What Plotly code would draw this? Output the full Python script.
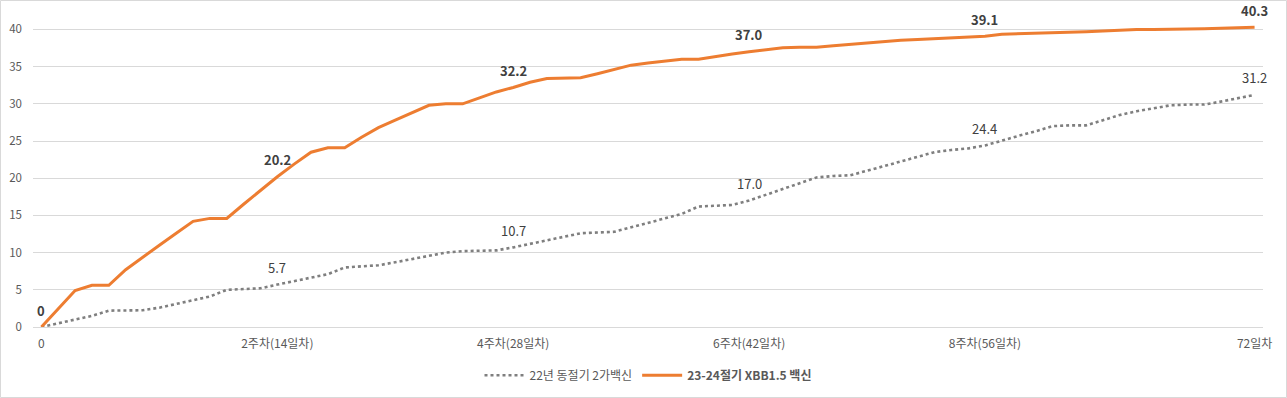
import plotly.graph_objects as go

days = list(range(73))

bivalent_22 = [0, 0.5, 1.0, 1.5, 2.2, 2.2, 2.25, 2.6, 3.1, 3.6,
               4.1, 5.0, 5.1, 5.2, 5.7, 6.2, 6.6, 7.1, 8.0, 8.2,
               8.3, 8.7, 9.1, 9.5, 10.0, 10.2, 10.2, 10.3, 10.7, 11.2,
               11.7, 12.2, 12.6, 12.7, 12.8, 13.4, 14.0, 14.6, 15.2, 16.2,
               16.3, 16.4, 17.0, 17.8, 18.6, 19.4, 20.1, 20.3, 20.4, 21.0,
               21.6, 22.2, 22.8, 23.5, 23.8, 24.0, 24.4, 25.1, 25.7, 26.3,
               27.0, 27.1, 27.1, 27.8, 28.5, 29.0, 29.4, 29.8, 29.9, 29.9,
               30.3, 30.8, 31.2]

xbb_2324 = [0, 2.45, 4.9, 5.6, 5.6, 7.7, 9.4, 11.0, 12.6, 14.2,
            14.6, 14.6, 16.5, 18.4, 20.2, 21.9, 23.5, 24.1, 24.1, 25.5,
            26.8, 27.8, 28.8, 29.8, 30.0, 30.0, 30.8, 31.6, 32.2, 32.9,
            33.4, 33.45, 33.5, 34.05, 34.65, 35.2, 35.5, 35.8, 36.0, 36.0,
            36.4, 36.7, 37.0, 37.3, 37.55, 37.6, 37.6, 37.8, 38.0, 38.2,
            38.45, 38.55, 38.65, 38.75, 38.9, 39.0, 39.1, 39.35, 39.4, 39.45,
            39.5, 39.6, 39.7, 39.8, 39.9, 40.0, 40.0, 40.0, 40.0, 40.1,
            40.15, 40.2, 40.3]

tick_vals = [0, 14, 28, 42, 56, 72]
tick_text = ["0", "2주차(14일차)", "4주차(28일차)", "6주차(42일차)", "8주차(56일차)", "72일차"]

label_days_gray = [14, 28, 42, 56, 72]
label_days_orange = [0, 14, 28, 42, 56, 72]

series_gray = "22년 동절기 2가백신"
series_orange = "23-24절기 XBB1.5 백신"

FONT = "Noto Sans CJK KR, Malgun Gothic, sans-serif"
GRAY = "#7f7f7f"
ORANGE = "#ED7D31"

fig = go.Figure()
fig.add_trace(go.Scatter(x=days, y=bivalent_22, mode="lines", name=series_gray,
                         line=dict(color=GRAY, width=2.6, dash="dot")))
fig.add_trace(go.Scatter(x=days, y=xbb_2324, mode="lines", name="<b>" + series_orange + "</b>",
                         line=dict(color=ORANGE, width=3)))

annotations = []
for d in label_days_gray:
    v = bivalent_22[d]
    annotations.append(dict(x=d, y=v, text=f"{v:.1f}", showarrow=False, yshift=17,
                            font=dict(family=FONT, size=13, color="#404040")))
for d in label_days_orange:
    v = xbb_2324[d]
    txt = "0" if v == 0 else f"{v:.1f}"
    annotations.append(dict(x=d, y=v, text=f"<b>{txt}</b>", showarrow=False, yshift=17,
                            font=dict(family=FONT, size=13, color="#404040")))

W, H = 1287, 398
ml, mr, mt, mb = 33, 24, 22, 71
pw, ph = W - ml - mr, H - mt - mb

fig.update_layout(
    width=W, height=H,
    margin=dict(l=ml, r=mr, t=mt, b=mb, autoexpand=False),
    paper_bgcolor="white", plot_bgcolor="white",
    font=dict(family=FONT, size=11, color="#595959"),
    showlegend=True,
    legend=dict(orientation="h", x=0.5, xanchor="center", y=(-48.3) / ph, yanchor="middle",
                font=dict(family=FONT, size=12, color="#595959"), itemwidth=40,
                tracegroupgap=0),
    annotations=annotations,
    shapes=[dict(type="rect", xref="paper", yref="paper",
                 x0=(-ml + 0.5) / pw, x1=1 + (mr - 0.5) / pw,
                 y0=(-mb + 0.5) / ph, y1=1 + (mt - 0.5) / ph,
                 line=dict(color="#d9d9d9", width=1), fillcolor="rgba(0,0,0,0)", layer="below")],
)
fig.update_xaxes(range=[-0.5, 72.5], tickmode="array", tickvals=tick_vals, ticktext=tick_text,
                 showgrid=False, zeroline=False, showline=False, ticks="", automargin=False,
                 ticklabelstandoff=8,
                 tickfont=dict(family=FONT, size=12, color="#595959"))
fig.update_yaxes(range=[0, 41], dtick=5, tick0=0, showgrid=True, gridcolor="#d9d9d9", gridwidth=1,
                 zeroline=True, zerolinecolor="#d9d9d9", zerolinewidth=1, showline=False, ticks="",
                 ticklabelstandoff=10, automargin=False,
                 tickfont=dict(family=FONT, size=11.5, color="#595959"))

fig.write_html("out.html", config={"displayModeBar": False},
               post_script="document.body.style.margin='0';document.body.style.overflow='hidden';")
